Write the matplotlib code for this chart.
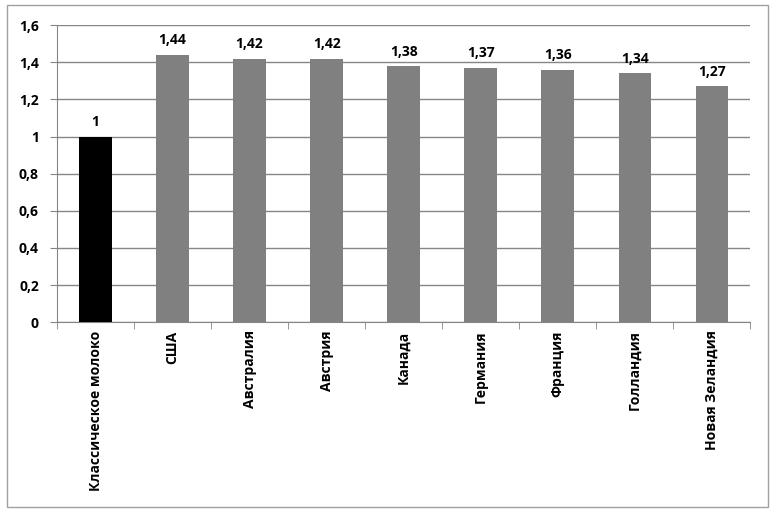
import matplotlib.pyplot as plt
from matplotlib.patches import Rectangle
from matplotlib.ticker import FuncFormatter, MultipleLocator, FixedLocator
import numpy as np

# --- data ---
categories = ["Классическое молоко", "США", "Австралия", "Австрия", "Канада",
              "Германия", "Франция", "Голландия", "Новая Зеландия"]
values = [1.00, 1.44, 1.42, 1.42, 1.38, 1.37, 1.36, 1.34, 1.27]
colors = ["#000000"] + ["#808080"] * 8

plt.rcParams['font.family'] = ['Open Sans', 'DejaVu Sans']
plt.rcParams['font.weight'] = 'bold'

fig = plt.figure(figsize=(7.78, 5.13), dpi=100)
ax = fig.add_axes([0.0733, 0.372, 0.891, 0.579])

x = np.arange(len(categories))
ax.bar(x, values, width=0.42, color=colors, zorder=3)

def comma(v):
    s = f"{v:.2f}".rstrip("0").rstrip(".")
    return s.replace(".", ",")

for xi, v in zip(x, values):
    ax.text(xi, v + 0.04, comma(v), ha="center", va="bottom",
            fontsize=10, fontweight="bold")

ax.set_xlim(-0.5, len(categories) - 0.5)
ax.set_ylim(0, 1.6)
ax.yaxis.set_major_locator(MultipleLocator(0.2))
ax.yaxis.set_major_formatter(FuncFormatter(lambda v, p: comma(round(v, 1))))
ax.grid(axis="y", color="#868686", linewidth=1, zorder=0)

ax.set_xticks(x)
ax.set_xticklabels(categories, rotation=90, fontsize=10, fontweight="bold")
ax.tick_params(axis="x", length=0, pad=6)
ax.xaxis.set_minor_locator(FixedLocator(np.arange(-0.5, len(categories), 1.0)))
ax.tick_params(axis="x", which="minor", length=5, color="#868686", direction="out")
ax.tick_params(axis="y", length=5, color="#868686", labelsize=10, pad=8)
for lbl in ax.get_yticklabels():
    lbl.set_fontweight("bold")

for side in ["top", "right"]:
    ax.spines[side].set_visible(False)
for side in ["left", "bottom"]:
    ax.spines[side].set_color("#868686")

# outer border like the Excel chart area
fig.patches.append(Rectangle((7 / 778, 1 - 507 / 513), 761 / 778, 502 / 513,
                             transform=fig.transFigure, fill=False,
                             edgecolor="#a0a0a0", linewidth=1))

fig.savefig("out.png", dpi=100)
